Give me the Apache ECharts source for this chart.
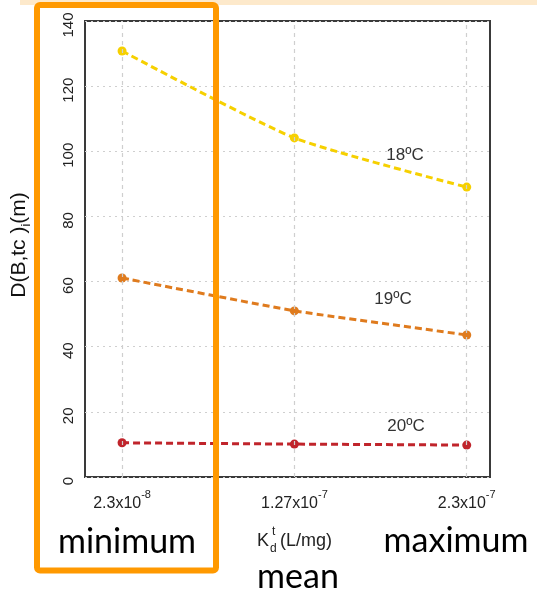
<!DOCTYPE html>
<html><head><meta charset="utf-8">
<script src="https://cdn.jsdelivr.net/npm/echarts@6/dist/echarts.min.js"></script>
<style>html,body{margin:0;padding:0;background:#fff}#c{width:537px;height:593px}</style>
</head><body><div id="c"></div>
<script>
// ---- data ----
const kdBase = ['2.3x10', '1.27x10', '2.3x10'];
const kdExp = ['-8', '-7', '-7'];
const kdPos = [0, 1, 2];
const t18 = [130.8, 104.1, 89.0];
const t19 = [61.1, 51.0, 43.6];
const t20 = [10.5, 10.1, 9.8];
const seriesNames = ['18ºC', '19ºC', '20ºC'];
const yTicks = [0, 20, 40, 60, 80, 100, 120, 140];
const caseLabels = ['minimum', 'mean', 'maximum'];

const ARIAL = '"Liberation Sans", Arial, sans-serif';
const CAL = 'Lato, "Noto Sans", sans-serif';
const colors = ['#F6D000', '#DF7B1E', '#C0242B'];
const labelCoords = [[1.642, 98.9], [1.572, 54.6], [1.648, 15.7]];

function mkSeries(name, vals, color, smooth, i) {
  return {
    name: name, type: 'line', z: 3,
    data: vals.map((v, k) => [kdPos[k], v]),
    smooth: smooth,
    symbol: 'circle', symbolSize: 9,
    itemStyle: { color: color, borderWidth: 0 },
    lineStyle: { color: color, width: 3, type: [7, 4] },
    markPoint: {
      symbol: 'circle', symbolSize: 0, silent: true,
      data: [{ coord: labelCoords[i], value: name }],
      label: { show: true, position: 'inside', formatter: name, color: '#333', fontSize: 17, fontFamily: ARIAL }
    }
  };
}

const chart = echarts.init(document.getElementById('c'), null, { renderer: 'canvas' });
chart.setOption({
  animation: false,
  backgroundColor: '#fff',
  grid: { left: 85, right: 47, top: 21, bottom: 116, show: true, borderColor: '#3a3a3a', borderWidth: 2, backgroundColor: 'transparent' },
  xAxis: {
    type: 'value', min: -0.215, max: 2.135,
    axisLine: { show: false }, axisTick: { show: false }, splitLine: { show: false },
    axisLabel: {
      customValues: kdPos,
      margin: 12,
      formatter: function (v) {
        const i = Math.round(v);
        return '{b|' + kdBase[i] + '}{s|' + kdExp[i] + '}';
      },
      rich: {
        b: { fontSize: 16, fontFamily: ARIAL, color: '#222', lineHeight: 23, verticalAlign: 'bottom' },
        s: { fontSize: 11, fontFamily: ARIAL, color: '#222', lineHeight: 12, verticalAlign: 'top' }
      }
    }
  },
  yAxis: {
    type: 'value', min: 0, max: 140, interval: 20,
    axisLine: { show: false }, axisTick: { show: false },
    splitLine: { show: true, lineStyle: { color: '#cfcfcf', width: 1, type: [2, 4] } },
    axisLabel: { rotate: 90, margin: 9, fontSize: 15, fontFamily: ARIAL, color: '#222', padding: [0, 8, 0, 0] },
    name: '{a|D(B,tc )}{i|i}{a|(m)}',
    nameLocation: 'middle', nameRotate: 90, nameGap: 52,
    nameTextStyle: {
      padding: [0, 0, 0, 8],
      rich: {
        a: { fontSize: 21, fontFamily: ARIAL, color: '#111', lineHeight: 24, verticalAlign: 'top' },
        i: { fontSize: 13, fontFamily: ARIAL, color: '#111', lineHeight: 14, verticalAlign: 'bottom' }
      }
    }
  },
  series: [
    {
      type: 'line', z: 1, data: [], silent: true,
      markLine: {
        silent: true, symbol: 'none', label: { show: false },
        lineStyle: { color: '#cfcfcf', width: 1.2, type: [4, 4] },
        data: kdPos.map(p => ({ xAxis: p }))
      }
    },
    mkSeries(seriesNames[0], t18, colors[0], 0.2, 0),
    mkSeries(seriesNames[1], t19, colors[1], 0.1, 1),
    mkSeries(seriesNames[2], t20, colors[2], 0, 2)
  ],
  graphic: [
    { type: 'rect', z: 100, shape: { x: 20, y: 0, width: 517, height: 5 }, style: { fill: '#FDE9CB' } },
    { type: 'rect', z: 101, shape: { x: 37, y: 5, width: 179, height: 565.5, r: 3 }, style: { fill: 'none', stroke: '#FF9900', lineWidth: 6 } },
    { type: 'text', z: 102, x: 257, y: 541, style: { text: 'K', font: '18px ' + ARIAL, fill: '#222', textVerticalAlign: 'middle' } },
    { type: 'text', z: 102, x: 272, y: 532, style: { text: 't', font: '12px ' + ARIAL, fill: '#222', textVerticalAlign: 'middle' } },
    { type: 'text', z: 102, x: 270, y: 549, style: { text: 'd', font: '12px ' + ARIAL, fill: '#222', textVerticalAlign: 'middle' } },
    { type: 'text', z: 102, x: 280, y: 541, style: { text: '(L/mg)', font: '18px ' + ARIAL, fill: '#222', textVerticalAlign: 'middle' } },
    { type: 'text', z: 102, x: 127, y: 542, style: { text: caseLabels[0], font: '34px ' + CAL, fill: '#000', textAlign: 'center', textVerticalAlign: 'middle' } },
    { type: 'text', z: 102, x: 298, y: 577, style: { text: caseLabels[1], font: '34px ' + CAL, fill: '#000', textAlign: 'center', textVerticalAlign: 'middle' } },
    { type: 'text', z: 102, x: 456, y: 541, style: { text: caseLabels[2], font: '34px ' + CAL, fill: '#000', textAlign: 'center', textVerticalAlign: 'middle' } }
  ]
});
</script></body></html>
